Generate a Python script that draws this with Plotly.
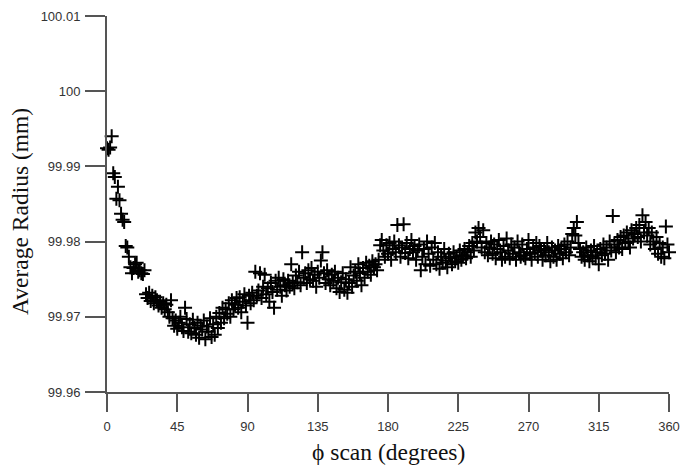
import plotly.graph_objects as go

# Scan angle (degrees), one reading per degree
phi_deg = list(range(0, 361))

# Average radius (mm)
avg_radius_mm = [
    99.9924, 99.9922, 99.9925, 99.9940, 99.9891, 99.9886, 99.9857, 99.9873, 99.9855, 99.9837,
    99.9829, 99.9826, 99.9794, 99.9792, 99.9780, 99.9766, 99.9758, 99.9765, 99.9770, 99.9772,
    99.9760, 99.9762, 99.9758, 99.9757, 99.9762, 99.9730, 99.9725, 99.9732, 99.9721, 99.9728,
    99.9718, 99.9726, 99.9722, 99.9715, 99.9720, 99.9712, 99.9718, 99.9710, 99.9716, 99.9706,
    99.9700, 99.9722, 99.9698, 99.9688, 99.9695, 99.9684, 99.9692, 99.9700, 99.9686, 99.9681,
    99.9712, 99.9697, 99.9680, 99.9690, 99.9678, 99.9696, 99.9685, 99.9676, 99.9692, 99.9672,
    99.9688, 99.9683, 99.9695, 99.9670, 99.9687, 99.9680, 99.9698, 99.9673, 99.9690, 99.9676,
    99.9700, 99.9685, 99.9705, 99.9692, 99.9712, 99.9698, 99.9710, 99.9704, 99.9718, 99.9700,
    99.9722, 99.9710, 99.9716, 99.9725, 99.9712, 99.9726, 99.9706, 99.9720, 99.9730, 99.9715,
    99.9692, 99.9728, 99.9718, 99.9732, 99.9722, 99.9760, 99.9728, 99.9735, 99.9758, 99.9725,
    99.9740, 99.9756, 99.9730, 99.9738, 99.9720, 99.9745, 99.9733, 99.9712, 99.9748, 99.9736,
    99.9752, 99.9740, 99.9728, 99.9750, 99.9742, 99.9735, 99.9748, 99.9740, 99.9770, 99.9745,
    99.9738, 99.9755, 99.9746, 99.9760, 99.9742, 99.9786, 99.9752, 99.9758, 99.9745, 99.9762,
    99.9750, 99.9765, 99.9748, 99.9756, 99.9740, 99.9760, 99.9752, 99.9775, 99.9786, 99.9758,
    99.9745, 99.9762, 99.9750, 99.9742, 99.9756, 99.9748, 99.9760, 99.9738, 99.9752, 99.9733,
    99.9746, 99.9758, 99.9736, 99.9750, 99.9732, 99.9745, 99.9766, 99.9740, 99.9755, 99.9760,
    99.9748, 99.9770, 99.9758, 99.9742, 99.9765, 99.9752, 99.9772, 99.9760, 99.9768, 99.9756,
    99.9774, 99.9766, 99.9770, 99.9762, 99.9776, 99.9795, 99.9802, 99.9788, 99.9780, 99.9795,
    99.9784, 99.9798, 99.9776, 99.9790, 99.9800, 99.9786, 99.9822, 99.9795, 99.9780, 99.9792,
    99.9823, 99.9785, 99.9798, 99.9778, 99.9790, 99.9802, 99.9786, 99.9794, 99.9776, 99.9788,
    99.9796, 99.9762, 99.9780, 99.9790, 99.9770, 99.9800, 99.9784, 99.9768, 99.9792, 99.9776,
    99.9798, 99.9770, 99.9786, 99.9764, 99.9780, 99.9772, 99.9790, 99.9775, 99.9766, 99.9784,
    99.9778, 99.9770, 99.9786, 99.9774, 99.9780, 99.9772, 99.9788, 99.9776, 99.9782, 99.9790,
    99.9778, 99.9786, 99.9794, 99.9780, 99.9798, 99.9788, 99.9812, 99.9800, 99.9818, 99.9806,
    99.9792, 99.9815, 99.9786, 99.9798, 99.9782, 99.9792, 99.9800, 99.9784, 99.9796, 99.9778,
    99.9790, 99.9802, 99.9786, 99.9776, 99.9794, 99.9780, 99.9804, 99.9788, 99.9778, 99.9796,
    99.9784, 99.9792, 99.9776, 99.9800, 99.9786, 99.9780, 99.9796, 99.9782, 99.9778, 99.9790,
    99.9802, 99.9784, 99.9776, 99.9792, 99.9786, 99.9798, 99.9780, 99.9794, 99.9788, 99.9776,
    99.9790, 99.9782, 99.9798, 99.9786, 99.9774, 99.9792, 99.9780, 99.9788, 99.9776, 99.9794,
    99.9784, 99.9790, 99.9778, 99.9796, 99.9786, 99.9800, 99.9782, 99.9792, 99.9810, 99.9818,
    99.9808, 99.9826, 99.9798, 99.9790, 99.9780, 99.9786, 99.9776, 99.9792, 99.9782, 99.9774,
    99.9788, 99.9780, 99.9794, 99.9778, 99.9786, 99.9770, 99.9790, 99.9782, 99.9796, 99.9784,
    99.9792, 99.9776, 99.9800, 99.9788, 99.9834, 99.9796, 99.9786, 99.9802, 99.9792, 99.9806,
    99.9790, 99.9808, 99.9798, 99.9812, 99.9800, 99.9792, 99.9815, 99.9804, 99.9810, 99.9818,
    99.9806, 99.9822, 99.9800, 99.9835, 99.9812, 99.9826, 99.9808, 99.9818, 99.9796, 99.9812,
    99.9800, 99.9790, 99.9806, 99.9784, 99.9798, 99.9780, 99.9792, 99.9778, 99.9820, 99.9796,
    99.9786,
]

x_ticks = [0, 45, 90, 135, 180, 225, 270, 315, 360]
x_minor_ticks = [22.5, 67.5, 112.5, 157.5, 202.5, 247.5, 292.5, 337.5]
y_ticks = [99.96, 99.97, 99.98, 99.99, 100.0, 100.01]
y_minor_ticks = [99.965, 99.975, 99.985, 99.995, 100.005]
y_tick_labels = ["99.96", "99.97", "99.98", "99.99", "100", "100.01"]

X_RANGE = [0, 360]
Y_RANGE = [99.96, 100.01]
PLOT_W, PLOT_H = 562, 376  # plot area size in px
x_per_px = (X_RANGE[1] - X_RANGE[0]) / PLOT_W
y_per_px = (Y_RANGE[1] - Y_RANGE[0]) / PLOT_H

axis_color = "#555555"
title_font = dict(family="Liberation Serif, Times New Roman, serif", size=23.5, color="#111111")

fig = go.Figure()

# outside tick marks, drawn as an unclipped line trace in axis units
tx, ty = [], []
for v, ln in [(t, 18) for t in x_ticks] + [(t, 9) for t in x_minor_ticks]:
    tx += [v, v, None]
    ty += [Y_RANGE[0], Y_RANGE[0] - ln * y_per_px, None]
for v, ln in [(t, 20) for t in y_ticks] + [(t, 10) for t in y_minor_ticks]:
    tx += [X_RANGE[0], X_RANGE[0] - ln * x_per_px, None]
    ty += [v, v, None]
fig.add_trace(go.Scatter(
    x=tx, y=ty, mode="lines", line=dict(color=axis_color, width=2),
    connectgaps=False, hoverinfo="skip", showlegend=False, cliponaxis=False,
))

fig.add_trace(go.Scatter(
    x=phi_deg, y=avg_radius_mm, mode="markers",
    marker=dict(symbol="cross-thin", size=10, color="black",
                line=dict(color="black", width=2)),
    showlegend=False, cliponaxis=False,
))

fig.update_layout(
    width=689, height=458,
    margin=dict(l=99, r=28, t=8, b=74),
    paper_bgcolor="white", plot_bgcolor="white",
    font=dict(family="Liberation Sans, Arial, sans-serif", size=13, color="#333333"),
    annotations=[
        dict(text="ϕ scan (degrees)", xref="paper", yref="paper", x=0.5, y=-0.1596,
             xanchor="center", yanchor="middle", showarrow=False, font=title_font),
        dict(text="Average Radius (mm)", xref="paper", yref="paper", x=-0.1548, y=0.479,
             xanchor="center", yanchor="middle", textangle=-90, showarrow=False, font=title_font),
    ],
)
fig.update_xaxes(
    range=X_RANGE, tickmode="array", tickvals=x_ticks, ticktext=[str(v) for v in x_ticks],
    showgrid=False, zeroline=False, showline=True, linecolor=axis_color, linewidth=2,
    ticks="outside", ticklen=18, tickwidth=2, tickcolor=axis_color, automargin=False,
    ticklabelstandoff=3,
)
fig.update_yaxes(
    range=Y_RANGE, tickvals=y_ticks, ticktext=y_tick_labels,
    showgrid=False, zeroline=False, showline=True, linecolor=axis_color, linewidth=2,
    ticks="outside", ticklen=20, tickwidth=2, tickcolor=axis_color, automargin=False,
    ticklabelstandoff=2,
)

fig.write_html("out.html")
